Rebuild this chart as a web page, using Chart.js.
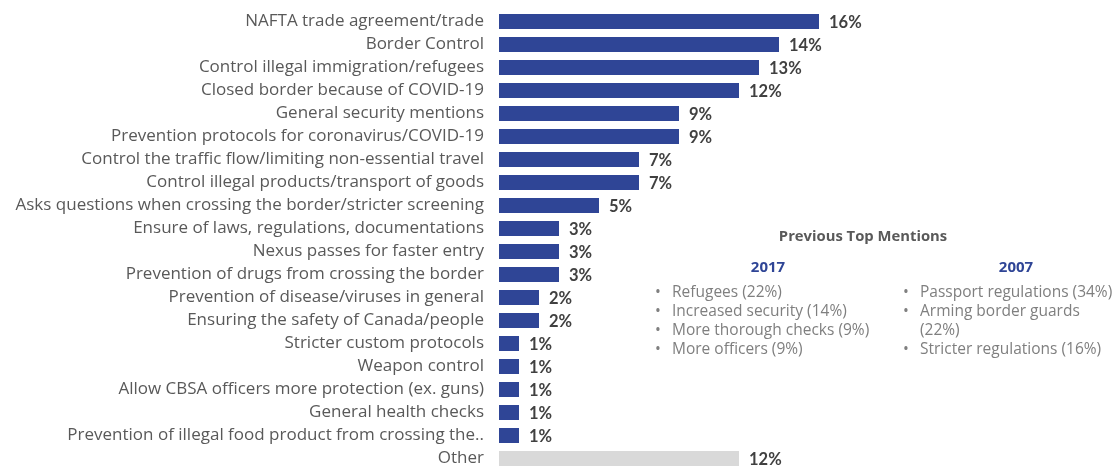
<!DOCTYPE html>
<html>
<head>
<meta charset="utf-8">
<script src="https://cdn.jsdelivr.net/npm/chart.js@4.4.1/dist/chart.umd.min.js"></script>
<style>
  html, body { margin: 0; padding: 0; background: #fff; overflow: hidden; }
  #wrap { position: relative; width: 1117px; height: 480px; }
  #mentions { position: absolute; left: 0; top: 0; font-family: 'Open Sans', sans-serif; }
  .title { position: absolute; left: 743px; top: 225px; width: 240px; text-align: center;
           font-weight: bold; font-size: 14.8px; color: #595959; }
  .year { position: absolute; top: 256px; width: 200px; text-align: center;
          font-weight: bold; font-size: 15px; color: #2F4596; }
  .list { position: absolute; top: 282px; margin: 0; padding: 0; list-style: none;
          font-size: 15.5px; line-height: 19px; color: #7f7f7f; }
  .list li { position: relative; padding-left: 17px; }
  .list li::before { content: '\2022'; position: absolute; left: 0; }
</style>
</head>
<body>
<div id="wrap">
  <canvas id="mentionsChart" width="1117" height="480"></canvas>
  <div id="mentions"></div>
</div>
<script>
document.addEventListener('DOMContentLoaded', () => {

    // --- DATA ---
    const categories = [
        'NAFTA trade agreement/trade',
        'Border Control',
        'Control illegal immigration/refugees',
        'Closed border because of COVID-19',
        'General security mentions',
        'Prevention protocols for coronavirus/COVID-19',
        'Control the traffic flow/limiting non-essential travel',
        'Control illegal products/transport of goods',
        'Asks questions when crossing the border/stricter screening',
        'Ensure of laws, regulations, documentations',
        'Nexus passes for faster entry',
        'Prevention of drugs from crossing the border',
        'Prevention of disease/viruses in general',
        'Ensuring the safety of Canada/people',
        'Stricter custom protocols',
        'Weapon control',
        'Allow CBSA officers more protection (ex. guns)',
        'General health checks',
        'Prevention of illegal food product from crossing the..',
        'Other'
    ];
    const shares = [16, 14, 13, 12, 9, 9, 7, 7, 5, 3, 3, 3, 2, 2, 1, 1, 1, 1, 1, 12];

    const mentionsTitle = 'Previous Top Mentions';
    const years = ['2017', '2007'];
    const mentions2017 = ['Refugees (22%)', 'Increased security (14%)', 'More thorough checks (9%)', 'More officers (9%)'];
    const mentions2007 = ['Passport regulations (34%)', 'Arming border guards (22%)', 'Stricter regulations (16%)'];

    const BLUE = '#2F4596';
    const GREY_BAR = '#D9D9D9';
    const barColors = categories.map(c => c === 'Other' ? GREY_BAR : BLUE);

    // --- VALUE LABELS AT THE END OF EACH BAR ---
    const valueLabels = {
        id: 'valueLabels',
        afterDatasetsDraw(chart) {
            const { ctx } = chart;
            const meta = chart.getDatasetMeta(0);
            ctx.save();
            ctx.font = "bold 16.5px 'Lato', sans-serif";
            ctx.fillStyle = '#404040';
            ctx.textAlign = 'left';
            ctx.textBaseline = 'middle';
            meta.data.forEach((bar, i) => {
                ctx.fillText(shares[i] + '%', bar.x + 10, bar.y + 1);
            });
            ctx.restore();
        }
    };

    new Chart(document.getElementById('mentionsChart'), {
        type: 'bar',
        data: {
            labels: categories,
            datasets: [{
                data: shares,
                backgroundColor: barColors,
                borderWidth: 0,
                barPercentage: 0.65,
                categoryPercentage: 1
            }]
        },
        options: {
            indexAxis: 'y',
            responsive: false,
            animation: false,
            layout: { padding: { top: 10, bottom: 10, left: 0, right: 18 } },
            plugins: {
                legend: { display: false },
                tooltip: { enabled: false }
            },
            scales: {
                x: { display: false, min: 0, max: 30 },
                y: {
                    grid: { display: false, drawTicks: false },
                    border: { display: false },
                    afterFit: (scale) => {
                        // fixed label column, and no extra room above/below the bars
                        scale.width = 499;
                        scale.paddingTop = 0;
                        scale.paddingBottom = 0;
                    },
                    ticks: {
                        autoSkip: false,
                        padding: 15,
                        color: '#595959',
                        font: { family: "'Open Sans', sans-serif", size: 17 }
                    }
                }
            }
        },
        plugins: [valueLabels]
    });

    // --- PREVIOUS TOP MENTIONS PANEL ---
    const panel = document.getElementById('mentions');
    const title = document.createElement('div');
    title.className = 'title';
    title.textContent = mentionsTitle;
    panel.appendChild(title);

    const columns = [
        { year: years[0], items: mentions2017, headLeft: 668, listLeft: 655, listWidth: 240 },
        { year: years[1], items: mentions2007, headLeft: 916, listLeft: 903, listWidth: 214 }
    ];
    columns.forEach(col => {
        const head = document.createElement('div');
        head.className = 'year';
        head.style.left = col.headLeft + 'px';
        head.textContent = col.year;
        panel.appendChild(head);

        const list = document.createElement('ul');
        list.className = 'list';
        list.style.left = col.listLeft + 'px';
        list.style.width = col.listWidth + 'px';
        col.items.forEach(text => {
            const li = document.createElement('li');
            li.textContent = text;
            list.appendChild(li);
        });
        panel.appendChild(list);
    });
});
</script>
</body>
</html>
